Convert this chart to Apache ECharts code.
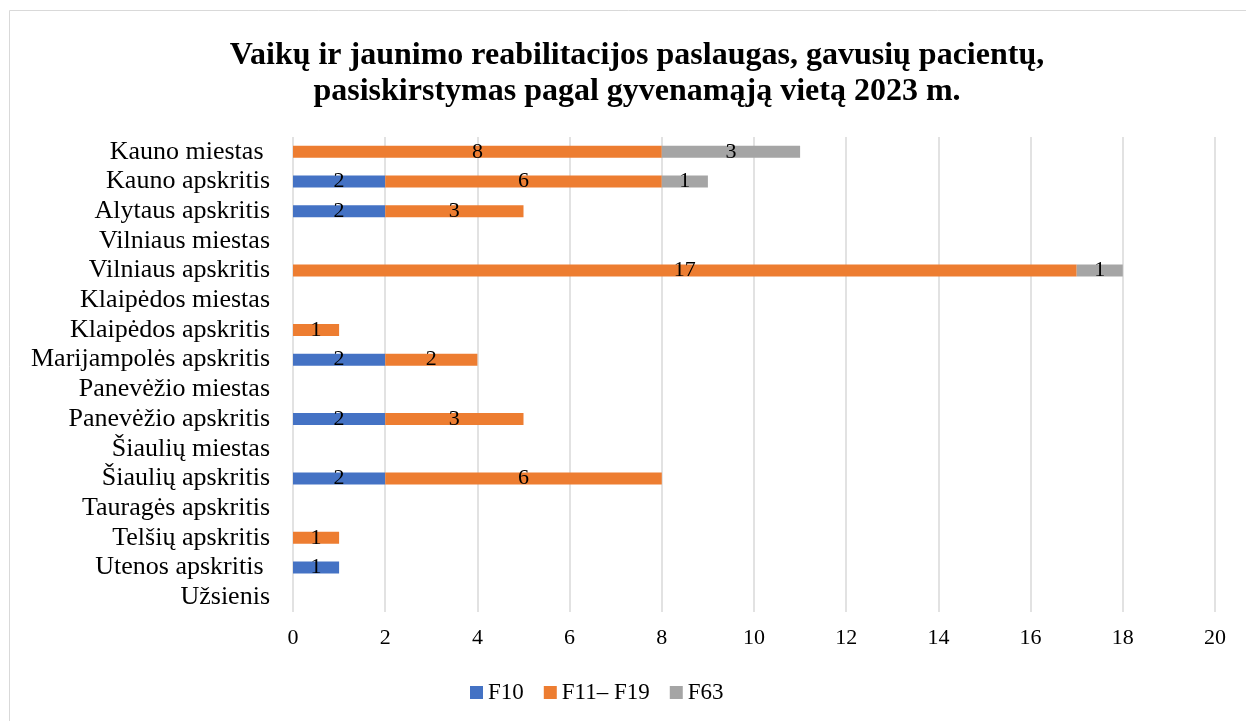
<!DOCTYPE html>
<html><head><meta charset="utf-8">
<script src="https://cdn.jsdelivr.net/npm/echarts@6/dist/echarts.min.js"></script>
<style>html,body{margin:0;padding:0;background:#fff;}#c{width:1246px;height:721px;}</style>
</head><body><div id="c"></div>
<script>
const categories = ["Kauno miestas ","Kauno apskritis","Alytaus apskritis","Vilniaus miestas","Vilniaus apskritis","Klaipėdos miestas","Klaipėdos apskritis","Marijampolės apskritis","Panevėžio miestas","Panevėžio apskritis","Šiaulių miestas","Šiaulių apskritis","Tauragės apskritis","Telšių apskritis","Utenos apskritis ","Užsienis"];
const f10 = [0,2,2,0,0,0,0,2,0,2,0,2,0,0,1,0];
const f11 = [8,6,3,0,17,0,1,2,0,3,0,6,0,1,0,0];
const f63 = [3,1,0,0,1,0,0,0,0,0,0,0,0,0,0,0];
const seriesNames = ["F10","F11– F19","F63"];
const colors = ["#4472C4","#ED7D31","#A5A5A5"];
const FONT = '"Liberation Serif","Times New Roman",serif';
const chart = echarts.init(document.getElementById('c'));
const mk = (name, data, color) => ({
  name, type:'bar', stack:'s', data, barWidth:12,
  itemStyle:{color},
  label:{show:true, position:'inside', color:'#000', fontFamily:FONT, fontSize:22,
    formatter:p => p.value ? String(p.value) : ''},
  emphasis:{disabled:true}
});
chart.setOption({
  animation:false,
  textStyle:{fontFamily:FONT},
  graphic:[{type:'rect', shape:{x:9.5,y:10.5,width:1250,height:730}, style:{fill:'none', stroke:'#d9d9d9', lineWidth:1}}],
  title:{text:'Vaikų ir jaunimo reabilitacijos paslaugas, gavusių pacientų,\npasiskirstymas pagal gyvenamąją vietą 2023 m.',
    left:632, textAlign:'center', top:33,
    textStyle:{fontFamily:FONT, fontSize:32, fontWeight:'bold', color:'#000', lineHeight:36}},
  legend:{top:676, left:465, itemWidth:13, itemHeight:13, itemGap:20,
    icon:'rect', textStyle:{fontFamily:FONT, fontSize:23, color:'#000', padding:[0,0,0,0]}, data:seriesNames},
  grid:{left:293, right:31, top:137, bottom:109, containLabel:false},
  xAxis:{type:'value', min:0, max:20, interval:2,
    axisLine:{show:false}, axisTick:{show:false},
    splitLine:{show:true, lineStyle:{color:'#d9d9d9', width:1.5}},
    axisLabel:{fontFamily:FONT, fontSize:22, color:'#000', margin:15}},
  yAxis:{type:'category', inverse:true, data:categories,
    axisLine:{show:false}, axisTick:{show:false},
    axisLabel:{interval:0, fontFamily:FONT, fontSize:26, color:'#000', margin:23}},
  series:[mk(seriesNames[0], f10, colors[0]), mk(seriesNames[1], f11, colors[1]), mk(seriesNames[2], f63, colors[2])]
});
</script></body></html>
